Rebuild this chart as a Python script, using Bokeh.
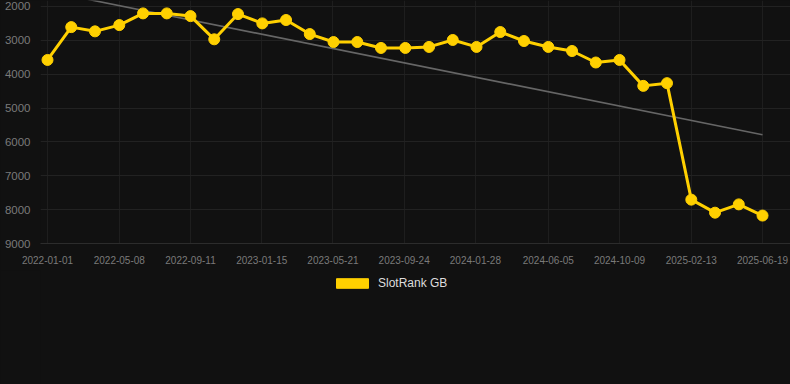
from datetime import datetime
from bokeh.plotting import figure
from bokeh.layouts import column
from bokeh.models import (ColumnDataSource, Range1d, FixedTicker, DatetimeTickFormatter,
                          Legend, LegendItem)
from bokeh.embed import file_html
from bokeh.resources import INLINE

dates = ["2022-01-01", "2022-02-12", "2022-03-26", "2022-05-08", "2022-06-19", "2022-07-31",
         "2022-09-11", "2022-10-23", "2022-12-04", "2023-01-16", "2023-02-27", "2023-04-10",
         "2023-05-22", "2023-07-03", "2023-08-14", "2023-09-26", "2023-11-07", "2023-12-19",
         "2024-01-30", "2024-03-12", "2024-04-23", "2024-06-05", "2024-07-17", "2024-08-28",
         "2024-10-09", "2024-11-20", "2025-01-01", "2025-02-13", "2025-03-27", "2025-05-08",
         "2025-06-19"]
rank = [3580, 2610, 2735, 2550, 2205, 2205, 2285, 2970, 2225, 2500, 2400, 2815, 3050, 3050,
        3225, 3225, 3195, 2990, 3195, 2755, 3020, 3195, 3315, 3655, 3580, 4345, 4265, 7705,
        8090, 7845, 8175]
trend_dates = ["2022-01-01", "2025-06-19"]
trend_vals = [1550, 5790]
tick_dates = ["2022-01-01", "2022-05-08", "2022-09-11", "2023-01-15", "2023-05-21", "2023-09-24",
              "2024-01-28", "2024-06-05", "2024-10-09", "2025-02-13", "2025-06-19"]
y_ticks = [2000, 3000, 4000, 5000, 6000, 7000, 8000, 9000]
series_name = "SlotRank GB"

def to_dt(s):
    return datetime.strptime(s, "%Y-%m-%d")

def to_ms(s):
    return (to_dt(s) - datetime(1970, 1, 1)).total_seconds() * 1000.0

DAY = 86400000.0
x0 = to_ms(dates[0]) - 12.4 * DAY
x1 = to_ms(dates[-1]) + 49.5 * DAY

src = ColumnDataSource(dict(x=[to_dt(d) for d in dates], y=rank))
tsrc = ColumnDataSource(dict(x=[to_dt(d) for d in trend_dates], y=trend_vals))

BG = "#111111"
FONT = "Liberation Sans"
YELLOW = "#FFD000"

p = figure(width=790, height=270, x_axis_type="datetime", output_backend="svg",
           toolbar_location=None, x_range=Range1d(x0, x1), y_range=Range1d(9000, 1824),
           background_fill_color=BG, border_fill_color=BG, outline_line_color=None,
           min_border_left=40, min_border_right=0, min_border_top=0, min_border_bottom=27,
           styles={"background-color": BG})

p.line("x", "y", source=tsrc, line_color="#666666", line_width=1.6)
p.line("x", "y", source=src, line_color=YELLOW, line_width=3)
p.scatter("x", "y", source=src, size=11, fill_color=YELLOW, line_color=YELLOW)

p.xaxis.ticker = FixedTicker(ticks=[to_ms(t) for t in tick_dates])
fmt = "%Y-%m-%d"
p.xaxis.formatter = DatetimeTickFormatter(milliseconds=fmt, seconds=fmt, minsec=fmt, minutes=fmt,
                                          hourmin=fmt, hours=fmt, days=fmt, months=fmt, years=fmt)
p.yaxis.ticker = FixedTicker(ticks=y_ticks)

for ax in (p.xaxis, p.yaxis):
    ax.major_tick_line_color = None
    ax.minor_tick_line_color = None
    ax.major_label_text_font = FONT
    ax.major_label_text_color = "#7a7a7a"
p.xaxis.major_label_text_font_size = "10px"
p.yaxis.major_label_text_font_size = "11.5px"
p.xaxis.axis_line_color = "#2c2c2c"
p.yaxis.axis_line_color = None
p.xaxis.major_label_standoff = 6
p.yaxis.major_label_standoff = 4

p.xgrid.grid_line_color = "#1e1e1e"
p.ygrid.grid_line_color = "#222222"

# legend strip below the chart
lg = figure(width=790, height=114, output_backend="svg", toolbar_location=None,
            x_range=Range1d(0, 1), y_range=Range1d(0, 1),
            x_axis_location=None, y_axis_location=None,
            background_fill_color=BG, background_fill_alpha=0,
            border_fill_color=BG, outline_line_color=None,
            min_border=0, styles={"background-color": BG})
lg.grid.visible = False
leg_r = lg.quad(left="x", right="x", top="y", bottom="y", source=src,
                fill_color=YELLOW, line_color=YELLOW)
leg_r.visible = False
legend = Legend(items=[LegendItem(label=series_name, renderers=[leg_r])],
                location=(292, 94), orientation="horizontal",
                background_fill_alpha=0, border_line_color=None,
                inactive_fill_alpha=0,
                glyph_width=40, glyph_height=12, padding=0, margin=0,
                label_text_font=FONT, label_text_font_size="12px", label_text_color="#dddddd",
                label_standoff=6)
lg.add_layout(legend, "center")

layout = column(p, lg, spacing=0, styles={"background-color": BG})
open("out.html", "w").write(file_html(layout, INLINE))
